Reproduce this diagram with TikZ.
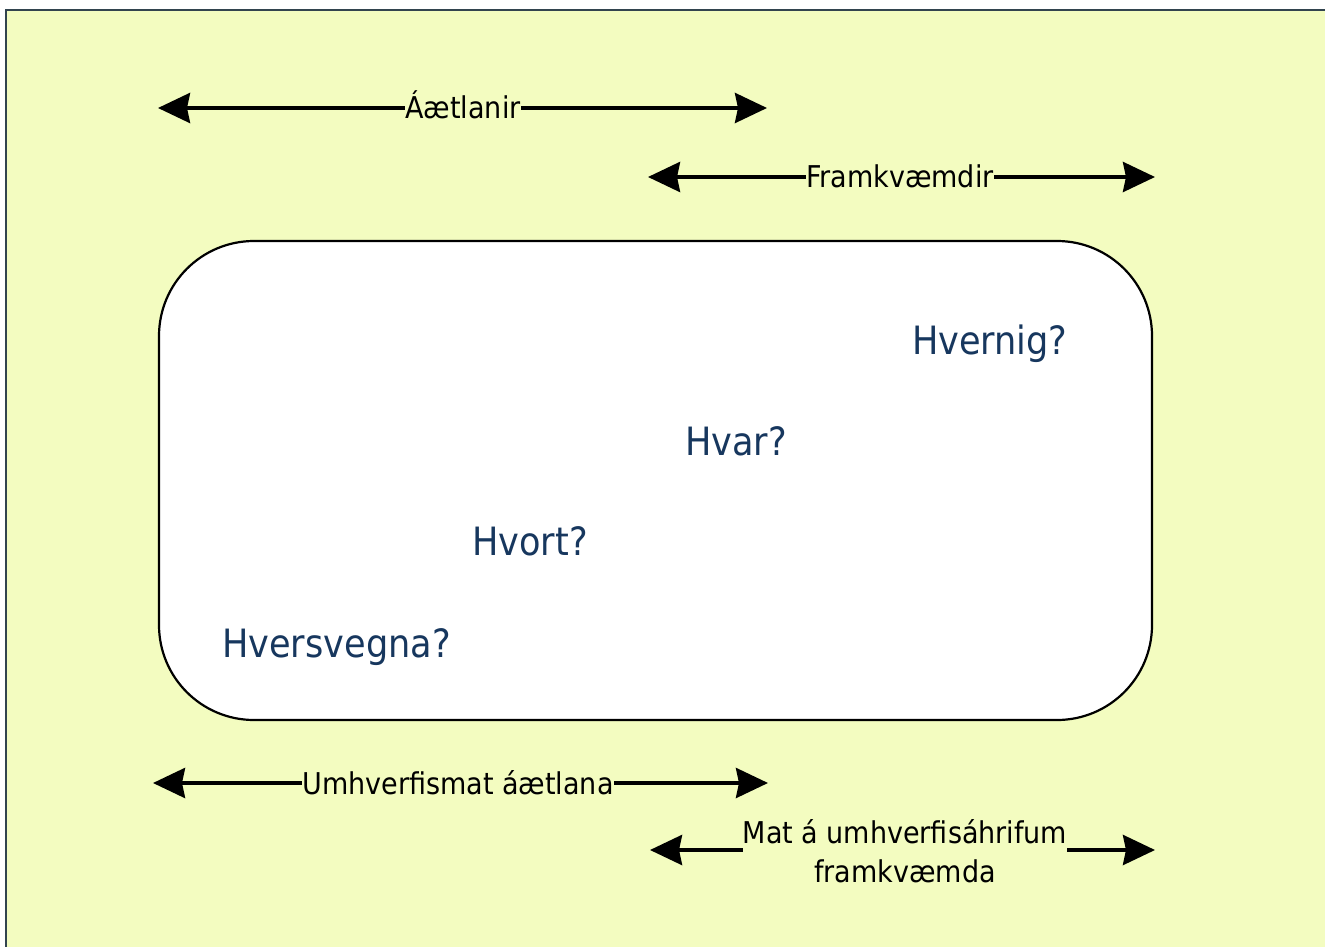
\documentclass[tikz,border=0pt]{standalone}
\usepackage{fontspec}
\setmainfont{DejaVu Sans Condensed}
\usetikzlibrary{arrows.meta}
\definecolor{bgyellow}{RGB}{243,252,192}
\definecolor{framecol}{RGB}{50,68,78}
\definecolor{qblue}{RGB}{23,55,94}
\tikzset{
  span/.style={line width=3.8pt,{Stealth[length=32pt,width=30pt,inset=3pt]}-{Stealth[length=32pt,width=30pt,inset=3pt]}},
  lbl/.style={fill=bgyellow,inner sep=0pt,font=\fontsize{30}{39}\selectfont,text=black},
  q/.style={anchor=base west,inner sep=0pt,font=\fontsize{39}{44}\selectfont,text=qblue}
}
\begin{document}
\begin{tikzpicture}[x=1pt,y=-1pt]
\useasboundingbox (0,0) rectangle (1325,947);
\fill[white] (0,0) rectangle (1325,947);
\draw[fill=bgyellow,draw=framecol,line width=2.5pt] (6,10) rectangle (1340,960);
% main rounded box
\draw[fill=white,line width=2.2pt,rounded corners=95pt] (159,241) rectangle (1152,720);
% questions
\node[q] (hvernig) at (912,354) {Hvernig?};
\node[q] (hvar) at (685,455) {Hvar?};
\node[q] (hvort) at (472,555) {Hvort?};
\node[q] (hversvegna) at (222,657) {Hversvegna?};
% arrows
\coordinate (a1l) at (158,108); \coordinate (a1r) at (767,108);
\draw[span] (a1l) -- (a1r);
\node[lbl,anchor=base] (aetl) at (463,119) {Áætlanir};
\coordinate (a2l) at (648,177); \coordinate (a2r) at (1155,177);
\draw[span] (a2l) -- (a2r);
\node[lbl,anchor=base] (framk) at (900,187) {Framkvæmdir};
\coordinate (a3l) at (153,783); \coordinate (a3r) at (768,783);
\draw[span] (a3l) -- (a3r);
\node[lbl,anchor=base] (umhv) at (458,794) {Umhverfismat áætlana};
\coordinate (a4l) at (650,850); \coordinate (a4r) at (1155,850);
\draw[span] (a4l) -- (a4r);
\node[lbl,align=center] (mat) at (905,851) {Mat á umhverfisáhrifum\\framkvæmda};
\end{tikzpicture}
\end{document}
